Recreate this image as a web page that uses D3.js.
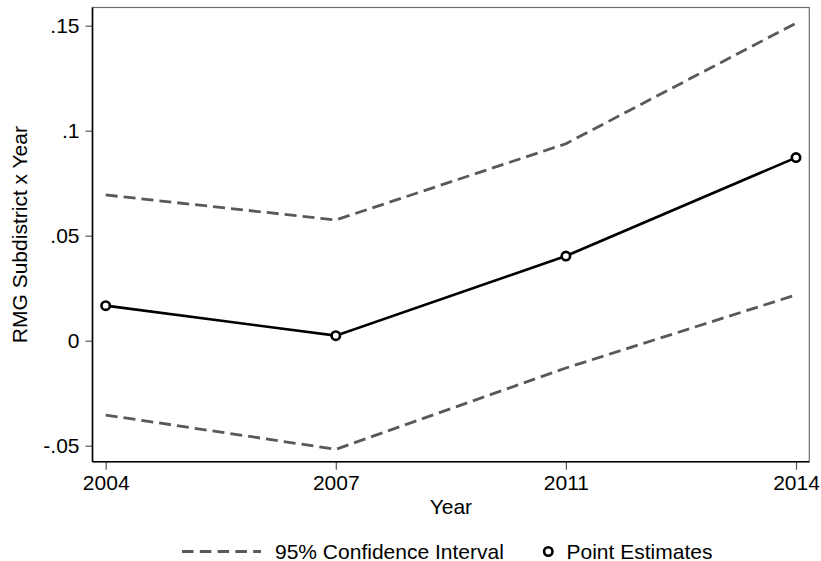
<!DOCTYPE html>
<html>
<head>
<meta charset="utf-8">
<script src="https://cdn.jsdelivr.net/npm/d3@7"></script>
<style>
  body { margin: 0; background: #fff; }
  svg { display: block; font-family: "Liberation Sans", Arial, sans-serif; }
</style>
</head>
<body>
<div id="chart"></div>
<script>
const years = ['2004', '2007', '2011', '2014'];
const estimates = [0.0167, 0.0024, 0.0403, 0.0872];
const ciUpper = [0.0694, 0.0575, 0.0938, 0.1512];
const ciLower = [-0.0354, -0.0517, -0.0130, 0.0218];
const yTicks = [-0.05, 0, 0.05, 0.1, 0.15];
const yTickLabels = ['-.05', '0', '.05', '.1', '.15'];

const w = 821, h = 561;
const box = { left: 92.5, right: 809.3, top: 7.5, bottom: 461.7 };
const fs = '21px';

const svg = d3.select('#chart')
  .append('svg')
  .attr('width', w)
  .attr('height', h);

const x = d3.scalePoint()
  .domain(years)
  .range([105.7, 796]);

const y = d3.scaleLinear()
  .domain([-0.05, 0.15])
  .range([445.7, 25.7]);

// plot region border (top/right grey)
svg.append('rect')
  .attr('x', box.left)
  .attr('y', box.top)
  .attr('width', box.right - box.left)
  .attr('height', box.bottom - box.top)
  .attr('fill', 'none')
  .attr('stroke', '#6e6e6e')
  .attr('stroke-width', 1.2);

// y axis
const yAxis = svg.append('g')
  .attr('transform', 'translate(' + box.left + ',0)')
  .call(d3.axisLeft(y)
    .tickValues(yTicks)
    .tickFormat((d, i) => yTickLabels[i])
    .tickSize(7)
    .tickPadding(6));
yAxis.select('.domain').remove();
yAxis.selectAll('.tick line').attr('stroke', '#555').attr('stroke-width', 1.2);
yAxis.selectAll('.tick text')
  .attr('fill', '#000')
  .attr('font-size', fs)
  .attr('font-family', '"Liberation Sans", Arial, sans-serif');

// x axis
const xAxis = svg.append('g')
  .attr('transform', 'translate(0,' + box.bottom + ')')
  .call(d3.axisBottom(x)
    .tickSize(8)
    .tickPadding(5));
xAxis.select('.domain').remove();
xAxis.selectAll('.tick line').attr('stroke', '#555').attr('stroke-width', 1.2);
xAxis.selectAll('.tick text')
  .attr('fill', '#000')
  .attr('font-size', fs)
  .attr('font-family', '"Liberation Sans", Arial, sans-serif');

// axis lines (black)
svg.append('line')
  .attr('x1', box.left).attr('x2', box.left)
  .attr('y1', box.top).attr('y2', box.bottom)
  .attr('stroke', '#000').attr('stroke-width', 1.6);
svg.append('line')
  .attr('x1', box.left).attr('x2', box.right)
  .attr('y1', box.bottom).attr('y2', box.bottom)
  .attr('stroke', '#000').attr('stroke-width', 1.6);

const line = d3.line()
  .x((d, i) => x(years[i]))
  .y(d => y(d));

// confidence interval
[ciUpper, ciLower].forEach(series => {
  svg.append('path')
    .datum(series)
    .attr('d', line)
    .attr('fill', 'none')
    .attr('stroke', '#595959')
    .attr('stroke-width', 2.8)
    .attr('stroke-dasharray', '12,6');
});

// point estimates
svg.append('path')
  .datum(estimates)
  .attr('d', line)
  .attr('fill', 'none')
  .attr('stroke', '#000')
  .attr('stroke-width', 2.6);

svg.selectAll('.pt')
  .data(estimates)
  .enter()
  .append('circle')
  .attr('class', 'pt')
  .attr('cx', (d, i) => x(years[i]))
  .attr('cy', d => y(d))
  .attr('r', 4.2)
  .attr('fill', '#fff')
  .attr('stroke', '#000')
  .attr('stroke-width', 2.6);

// axis titles
svg.append('text')
  .attr('x', (box.left + box.right) / 2)
  .attr('y', 514)
  .attr('text-anchor', 'middle')
  .attr('font-size', fs)
  .text('Year');

svg.append('text')
  .attr('transform', 'translate(27,' + ((box.top + box.bottom) / 2) + ') rotate(-90)')
  .attr('text-anchor', 'middle')
  .attr('font-size', fs)
  .text('RMG Subdistrict x Year');

// legend
const legend = svg.append('g');
legend.append('line')
  .attr('x1', 182).attr('x2', 261)
  .attr('y1', 551.5).attr('y2', 551.5)
  .attr('stroke', '#595959')
  .attr('stroke-width', 2.8)
  .attr('stroke-dasharray', '11.5,6.3');
legend.append('text')
  .attr('x', 275)
  .attr('y', 558.5)
  .attr('font-size', fs)
  .text('95% Confidence Interval');
legend.append('circle')
  .attr('cx', 548.3)
  .attr('cy', 551.5)
  .attr('r', 4.2)
  .attr('fill', '#fff')
  .attr('stroke', '#000')
  .attr('stroke-width', 2.6);
legend.append('text')
  .attr('x', 566.5)
  .attr('y', 558.5)
  .attr('font-size', fs)
  .text('Point Estimates');
</script>
</body>
</html>
